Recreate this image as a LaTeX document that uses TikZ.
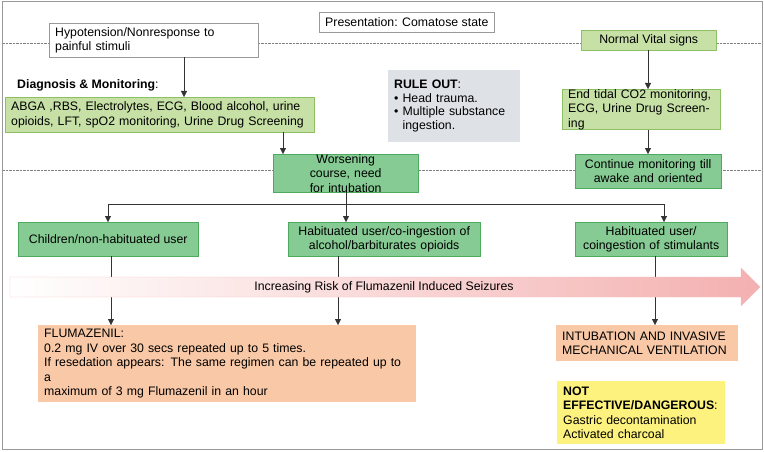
\documentclass[tikz,border=0pt]{standalone}
\usepackage{fontspec}
\setmainfont{Liberation Sans}
\usetikzlibrary{arrows.meta}
\definecolor{lg}{HTML}{C6E0A6}\definecolor{lgb}{HTML}{8CC063}
\definecolor{mg}{HTML}{86CB93}\definecolor{mgb}{HTML}{4DAA5E}
\definecolor{pch}{HTML}{F9C8A6}\definecolor{ylw}{HTML}{FDF27E}
\definecolor{gry}{HTML}{DEE2E7}\definecolor{pnk}{HTML}{F4B0B0}
\begin{document}
\begin{tikzpicture}[x=1pt,y=-1pt,font=\fontsize{12.3}{14.5}\selectfont,
 bx/.style={anchor=north west,inner xsep=6pt,inner ysep=0pt,align=left},
 wbox/.style={bx,draw=gray!80,fill=white},
 lbox/.style={bx,draw=lgb,fill=lg},
 mbox/.style={bx,draw=mgb,fill=mg,align=center},
 pbox/.style={bx,fill=pch},
 arr/.style={draw=black!80,-{Triangle[length=6pt,width=6pt]}},
 ln/.style={draw=black!80},
 dl/.style={densely dotted,draw=gray}]
\useasboundingbox (0,0) rectangle (764,452);
\draw[gray!80,line width=1pt] (2,2) rectangle (762,449);
\draw[dl] (3,43) -- (761,43);
\draw[dl] (3,170) -- (761,170);
% top
\node[wbox,minimum width=175,minimum height=20] (pres) at (319,12) {Presentation: Comatose state};
\node[wbox,text width=197,minimum height=34] (hyp) at (49,23) {Hypotension/Nonresponse to\\painful stimuli};
\node[anchor=west,inner sep=0] (diag) at (17,85) {\textbf{Diagnosis \& Monitoring}:};
\node[lbox,text width=297,minimum height=35] (abga) at (5,97) {ABGA ,RBS, Electrolytes, ECG, Blood alcohol, urine\\opioids, LFT, spO2 monitoring, Urine Drug Screening};
\node[mbox,text width=133,minimum height=34] (wors) at (273,154) {Worsening course, need\\for intubation};
\node[bx,fill=gry,text width=120,minimum height=72,inner ysep=6pt] (rule) at (388,70) {\textbf{RULE OUT}:\\[-1pt]\textbullet{} Head trauma.\\[-1pt]\textbullet{} Multiple substance\\[-1pt]\phantom{\textbullet{} }ingestion.};
\node[lbox,minimum width=135,minimum height=20,align=center] (nvs) at (581,30) {Normal Vital signs};
\node[lbox,text width=146,minimum height=35] (etc) at (562,89) {End tidal CO2 monitoring,\\ECG, Urine Drug Screening};
\node[mbox,text width=134,minimum height=34] (cont) at (575,154) {Continue monitoring till\\awake and oriented};
% middle row
\node[mbox,minimum width=180,minimum height=34] (chil) at (18,222) {Children/non-habituated user};
\node[mbox,text width=180,minimum height=34] (habm) at (288,222) {Habituated user/co-ingestion of\\alcohol/barbiturates opioids};
\node[mbox,text width=140,minimum height=34] (habr) at (575,222) {Habituated user/\\coingestion of stimulants};
% connectors
\draw[arr] (hyp.south -| 184,0) -- (abga.north -| 184,0);
\draw[arr] (abga.south -| 283,0) -- (wors.north -| 283,0);
\draw[arr] (nvs.south -| 648,0) -- (etc.north -| 648,0);
\draw[arr] (etc.south -| 648,0) -- (cont.north -| 648,0);
\coordinate (bl) at (108,204); \coordinate (br) at (664,204);
\draw[ln] (wors.south -| 346,0) -- (346,204);
\draw[ln] (bl) -- (br);
\draw[arr] (bl) -- (chil.north -| bl);
\draw[arr] (346,204) -- (habm.north -| 346,0);
\draw[arr] (br) -- (habr.north -| br);
% bottom boxes
\node[pbox,text width=366,minimum height=65,inner ysep=4pt] (flu) at (38,325) {FLUMAZENIL:\\0.2 mg IV over 30 secs repeated up to 5 times.\\If resedation appears: The same regimen can be repeated up to a\\maximum of 3 mg Flumazenil in an hour};
\node[pbox,text width=170,minimum height=36] (intu) at (556,325) {INTUBATION AND INVASIVE\\MECHANICAL VENTILATION};
\node[bx,fill=ylw,text width=156,minimum height=63,inner ysep=3pt] (note) at (557,381) {\textbf{NOT}\\\textbf{EFFECTIVE/DANGEROUS}:\\Gastric decontamination\\Activated charcoal};
\draw[arr] (chil.south -| 111,0) -- (flu.north -| 111,0);
\draw[arr] (habm.south -| 338,0) -- (flu.north -| 338,0);
\draw[arr] (habr.south -| 655,0) -- (intu.north -| 655,0);
% risk arrow
\shade[left color=white,right color=pnk,draw=pnk!80]
 (10,277) -- (741,277) -- (741,268) -- (760,287) -- (741,306) -- (741,297) -- (10,297) -- cycle;
\node (risk) at (384,287) {Increasing Risk of Flumazenil Induced Seizures};
\end{tikzpicture}
\end{document}
